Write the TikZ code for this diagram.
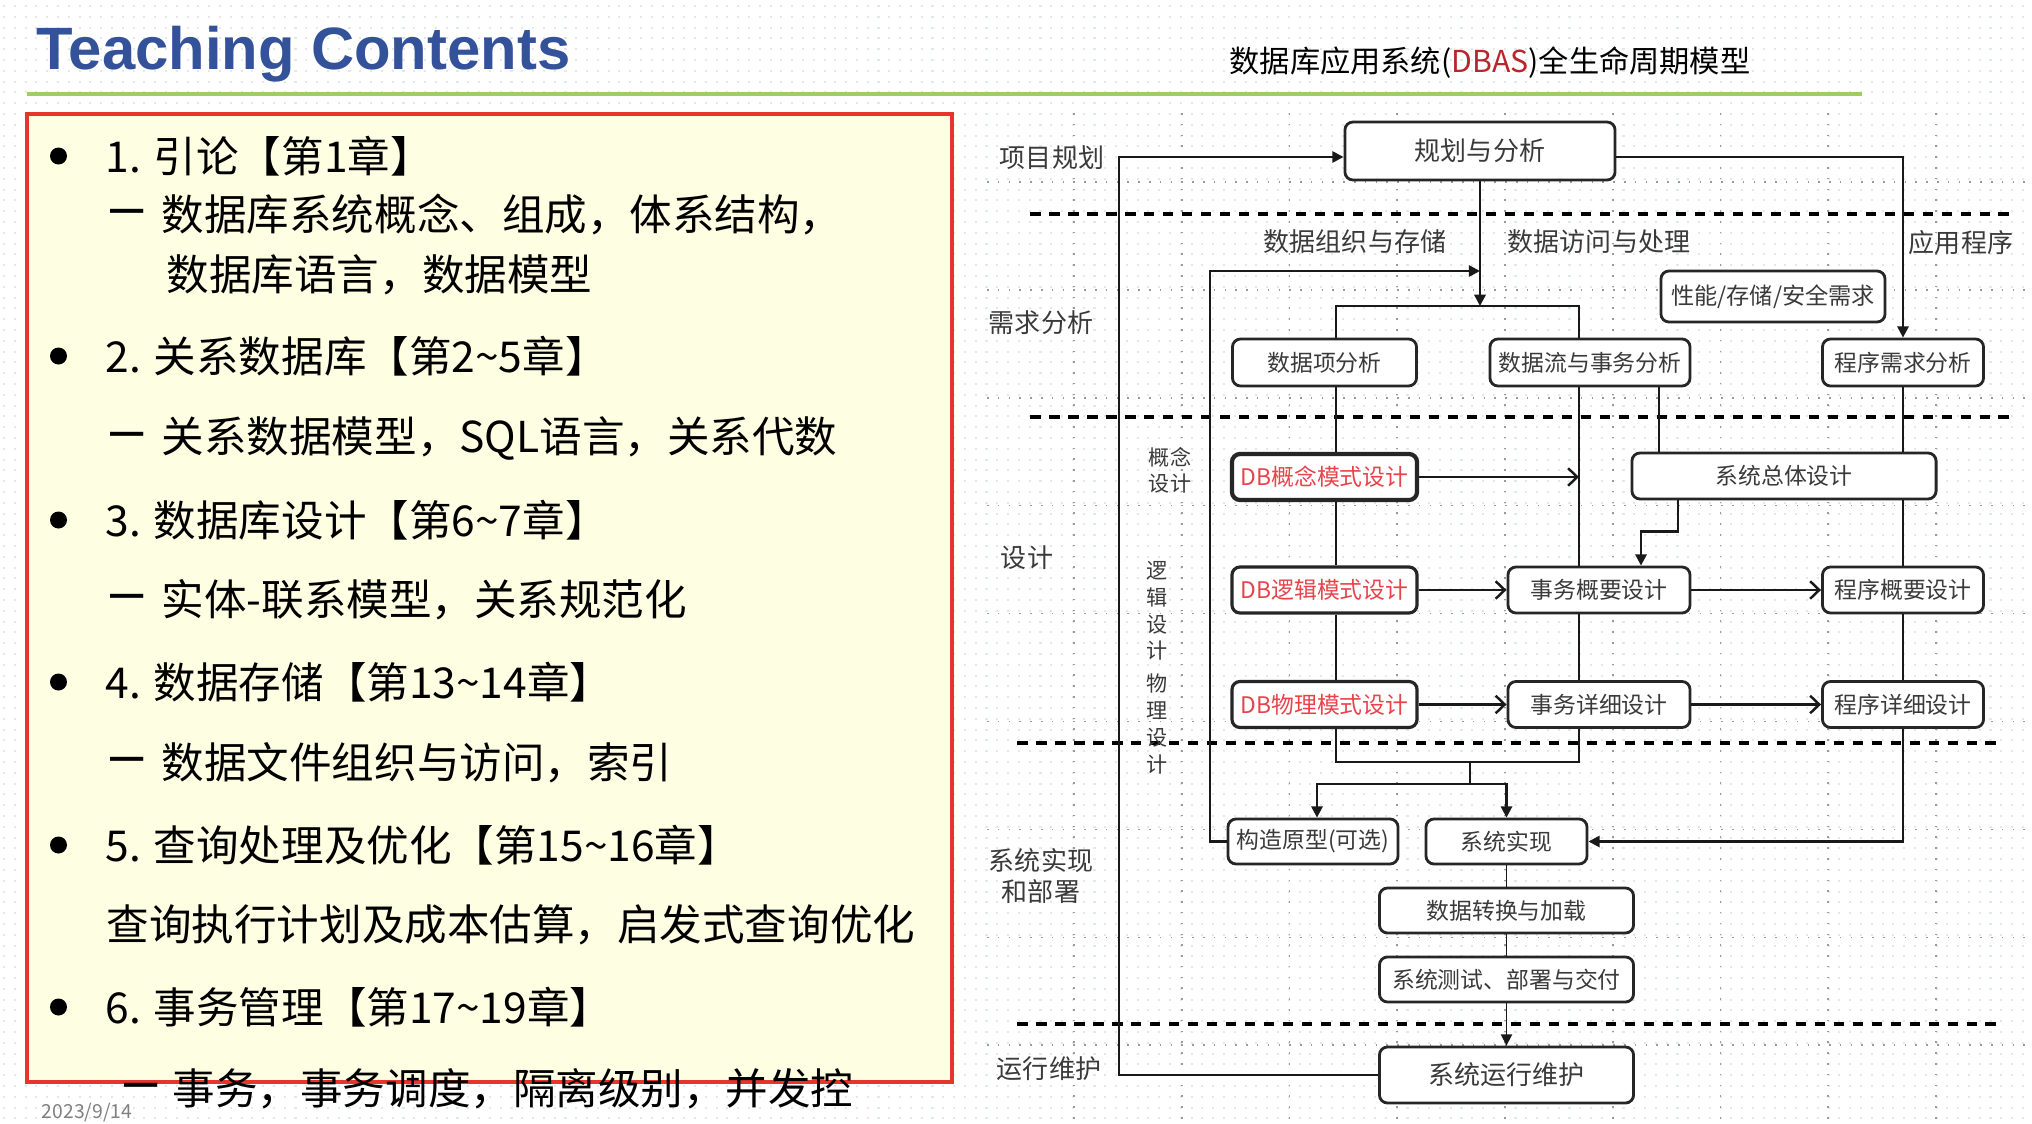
\documentclass[tikz,border=0pt]{standalone}
\usepackage{fontspec}
\setmainfont{Noto Sans CJK SC}
\newfontfamily\latinsans{Liberation Sans}
\usetikzlibrary{arrows.meta,calc}

\definecolor{titleblue}{HTML}{34529A}
\definecolor{rulegreen}{HTML}{A0CD63}
\definecolor{panelred}{HTML}{E8352B}
\definecolor{panelfill}{HTML}{FEFEE3}
\definecolor{dbred}{HTML}{E8434A}
\definecolor{dbasred}{HTML}{B8252A}
\definecolor{bgdot}{HTML}{E2EAE8}
\definecolor{griddot}{HTML}{9A9A9A}
\definecolor{dtext}{HTML}{3A3A3A}

\newcommand{\setfs}[1]{\fontsize{#1}{#1}\selectfont}

\tikzset{
  lt/.style={font=\setfs{12.1}, inner sep=0pt, anchor=west, text=black},
  dashmark/.style={font=\latinsans\setfs{17}, inner sep=0pt, anchor=west},
  bulletdot/.style={fill=black},
  pbox/.style={draw=black!85, line width=0.8pt, rounded corners=2.3pt, fill=white,
    inner sep=0pt, align=center, font=\setfs{6.5}, text=dtext,
    minimum width=1.61cm, minimum height=0.46cm},
  dbbox/.style={pbox, text=dbred, line width=0.9pt, minimum width=1.85cm},
  stage/.style={font=\setfs{7.4}, text=dtext, inner sep=0pt},
  substage/.style={font=\fontsize{6}{7.6}\selectfont, text=dtext, inner sep=0pt, align=center},
  conn/.style={line width=0.7pt, black!90},
  connthin/.style={line width=0.45pt, black!90},
  fa/.style={-{Triangle[length=3.2pt,width=3.2pt]}},
  oa/.style={-{Straight Barb[length=2.6pt,width=5pt]}},
  sepline/.style={black, line width=1.1pt, dash pattern=on 3pt off 2.4pt},
  gridline/.style={griddot, line width=0.45pt, dash pattern=on 0.45pt off 2.62pt},
  bgline/.style={bgdot, line width=0.6pt, dash pattern=on 0.6pt off 2.47pt},
}

\begin{document}
\begin{tikzpicture}[x=0.01cm, y=-0.01cm]
\useasboundingbox (0,0) rectangle (2032,1124);
\fill[white] (0,0) rectangle (2032,1124);

% dotted slide background
\foreach \k in {0,...,103}
  \draw[bgline] (3,{6+\k*10.8}) -- (2032,{6+\k*10.8});

% ---------------- left: heading and contents ----------------
\node[anchor=base west, font=\latinsans\bfseries\setfs{17}, text=titleblue, inner sep=0pt]
  (heading) at (36,70) {Teaching Contents};
\draw[rulegreen, line width=1.4pt] (27,94) -- (1862,94);

\fill[panelfill] (27,114) rectangle (952,1082);
\draw[panelred, line width=1.3pt] (27,114) rectangle (952,1082);

\fill[bulletdot] (58.5,156) circle[radius=8.5];
\node[lt] (l1) at (105,156) {1. 引论【第1章】};
\node[dashmark] (d2) at (110,218) {–};
\node[lt] (l2) at (161,215) {数据库系统概念、组成，体系结构，};
\node[lt] (l3) at (166,275) {数据库语言，数据模型};

\fill[bulletdot] (58.5,356) circle[radius=8.5];
\node[lt] (l4) at (105,356) {2. 关系数据库【第2\textasciitilde5章】};
\node[dashmark] (d5) at (110,441) {–};
\node[lt] (l5) at (161,438) {关系数据模型，SQL语言，关系代数};

\fill[bulletdot] (58.5,520) circle[radius=8.5];
\node[lt] (l6) at (105,520) {3. 数据库设计【第6\textasciitilde7章】};
\node[dashmark] (d7) at (110,603) {–};
\node[lt] (l7) at (161,600) {实体-联系模型，关系规范化};

\fill[bulletdot] (58.5,682) circle[radius=8.5];
\node[lt] (l8) at (105,682) {4. 数据存储【第13\textasciitilde14章】};
\node[dashmark] (d9) at (110,766) {–};
\node[lt] (l9) at (161,763) {数据文件组织与访问，索引};

\fill[bulletdot] (58.5,845) circle[radius=8.5];
\node[lt] (l10) at (105,845) {5. 查询处理及优化【第15\textasciitilde16章】};
\node[lt] (l11) at (106,925) {查询执行计划及成本估算，启发式查询优化};

\fill[bulletdot] (58.5,1007) circle[radius=8.5];
\node[lt] (l12) at (105,1007) {6. 事务管理【第17\textasciitilde19章】};
\node[dashmark] (d13) at (124,1092) {–};
\node[lt] (l13) at (172,1089) {事务，事务调度，隔离级别，并发控};

\node[font=\setfs{5.5}, text=gray, inner sep=0pt] (date) at (87,1113) {2023/9/14};

% ---------------- right: DBAS life-cycle model ----------------
\node[font=\setfs{8.6}, inner sep=0pt] (dtitle) at (1490,63)
  {数据库应用系统(\textcolor{dbasred}{DBAS})全生命周期模型};

% dotted layout grid
\foreach \i in {0,...,8}
  \draw[gridline] ({1074+\i*107.75},113) -- ({1074+\i*107.75},1124);
\foreach \j in {0,...,8}
  \draw[gridline] (987,{182+\j*107.9}) -- (2032,{182+\j*107.9});

% phase separators
\draw[sepline] (1030,214) -- (2010,214);
\draw[sepline] (1030,417) -- (2010,417);
\draw[sepline] (1017,743) -- (1997,743);
\draw[sepline] (1017,1024) -- (1997,1024);

% phase labels
\node[stage] (s1) at (1052,158) {项目规划};
\node[stage] (s2) at (1041,323) {需求分析};
\node[stage] (s3) at (1027,558) {设计};
\node[stage, align=center, font=\fontsize{7.4}{8.8}\selectfont] (s4) at (1041,876) {系统实现\\和部署};
\node[stage] (s5) at (1049,1069) {运行维护};
\node[stage] (c1) at (1355,242) {数据组织与存储};
\node[stage] (c2) at (1599,242) {数据访问与处理};
\node[stage] (c3) at (1961,243) {应用程序};
\node[substage, font=\fontsize{6}{7.4}\selectfont] (g1) at (1170,470) {概念\\设计};
\node[substage] (g2) at (1157,611) {逻\\辑\\设\\计};
\node[substage] (g3) at (1157,724) {物\\理\\设\\计};

% boxes
\node[pbox, font=\setfs{7.4}, minimum width=2.70cm, minimum height=0.58cm] (plan) at (1480,151) {规划与分析};
\node[pbox, font=\setfs{6.6}, minimum width=2.24cm, minimum height=0.51cm] (perf) at (1773,296.5) {性能/存储/安全需求};
\node[pbox, minimum width=1.84cm, minimum height=0.47cm] (itm) at (1324.5,362.5) {数据项分析};
\node[pbox, minimum width=2.00cm, minimum height=0.47cm] (flow) at (1590,362.5) {数据流与事务分析};
\node[pbox, minimum height=0.47cm] (preq) at (1903,362.5) {程序需求分析};

\node[dbbox, line width=1.2pt] (dbc) at (1324.5,477) {DB概念模式设计};
\node[pbox, minimum width=3.04cm] (sys) at (1784,476) {系统总体设计};

\node[dbbox] (dbl) at (1324.5,590) {DB逻辑模式设计};
\node[pbox, minimum width=1.82cm] (tlog) at (1599,590) {事务概要设计};
\node[pbox] (plog) at (1903,590) {程序概要设计};

\node[dbbox] (dbp) at (1324.5,704.5) {DB物理模式设计};
\node[pbox, minimum width=1.82cm] (tphy) at (1599,704.5) {事务详细设计};
\node[pbox] (pphy) at (1903,704.5) {程序详细设计};

\node[pbox, minimum width=1.70cm, minimum height=0.45cm] (proto) at (1313,841.5) {构造原型(可选)};
\node[pbox, minimum height=0.45cm] (impl) at (1506.5,841.5) {系统实现};
\node[pbox, minimum width=2.54cm, minimum height=0.45cm] (conv) at (1506.5,910.5) {数据转换与加载};
\node[pbox, minimum width=2.54cm, minimum height=0.45cm] (test) at (1506.5,979.5) {系统测试、部署与交付};
\node[pbox, font=\setfs{7.4}, minimum width=2.54cm, minimum height=0.56cm] (run) at (1506.5,1075) {系统运行维护};

% connector bends
\coordinate (loopL) at (1119,157);
\coordinate (loopR) at (1903,157);
\coordinate (tj) at (1480,306);
\coordinate (loop2) at (1210,271);
\coordinate (loop2end) at (1480,271);
\coordinate (tcol) at ($(flow.south)+(-11,0)$);
\coordinate (mj) at (1470,762);
\coordinate (sj) at (1470,784);

% feedback from operation back to planning
\draw[conn, fa] (run.west) -| (loopL) -- ($(plan.west)+(0,6)$);
% planning to application requirements
\draw[conn, fa] ($(plan.east)+(0,6)$) -- (loopR) -- (preq.north);
% planning down to data analysis
\draw[conn, fa] (plan.south) -- (tj);
\draw[conn] ($(itm.north)+(11.5,0)$) |- (tj) -| ($(flow.north)+(-11,0)$);
% prototype feedback
\draw[conn, fa] (proto.west) -| (loop2) -- (loop2end);

% database column
\draw[conn] ($(itm.south)+(11.5,0)$) -- ($(dbc.north)+(11.5,0)$);
\draw[conn] ($(dbc.south)+(11.5,0)$) -- ($(dbl.north)+(11.5,0)$);
\draw[conn] ($(dbl.south)+(11.5,0)$) -- ($(dbp.north)+(11.5,0)$);
% transaction column
\draw[conn] (tcol) -- ($(tlog.north)+(-20,0)$);
\draw[conn] ($(tlog.south)+(-20,0)$) -- ($(tphy.north)+(-20,0)$);
\draw[conn] ($(flow.south)+(69,0)$) -- ($(sys.north)+(-125,0)$);
\draw[conn, fa] ($(sys.south)+(-106,0)$) |- ($(tlog.north)+(42,-34)$) -- ($(tlog.north)+(42,0)$);
% program column
\draw[conn] (preq.south) -- (preq.south |- sys.north);
\draw[conn] (preq.south |- sys.south) -- (plog.north);
\draw[conn] (plog.south) -- (pphy.north);
\draw[conn, fa] (pphy.south) |- (impl.east);

% design refinements
\draw[conn, oa] (dbc.east) -- (dbc.east -| tcol);
\draw[conn, oa] (dbl.east) -- (tlog.west);
\draw[conn, oa] (tlog.east) -- (plog.west);
\draw[conn, oa] (dbp.east) -- (tphy.west);
\draw[conn, oa] (tphy.east) -- (pphy.west);

% merge into implementation
\draw[conn] ($(dbp.south)+(11.5,0)$) |- (mj) -| ($(tphy.south)+(-20,0)$);
\draw[conn] (mj) -- (sj);
\draw[conn, fa] (sj) -| ($(proto.north)+(4,0)$);
\draw[conn, fa] (sj) -| (impl.north);

% implementation chain
\draw[connthin] (impl.south) -- (conv.north);
\draw[connthin] (conv.south) -- (test.north);
\draw[connthin, fa] (test.south) -- (run.north);
\end{tikzpicture}
\end{document}
